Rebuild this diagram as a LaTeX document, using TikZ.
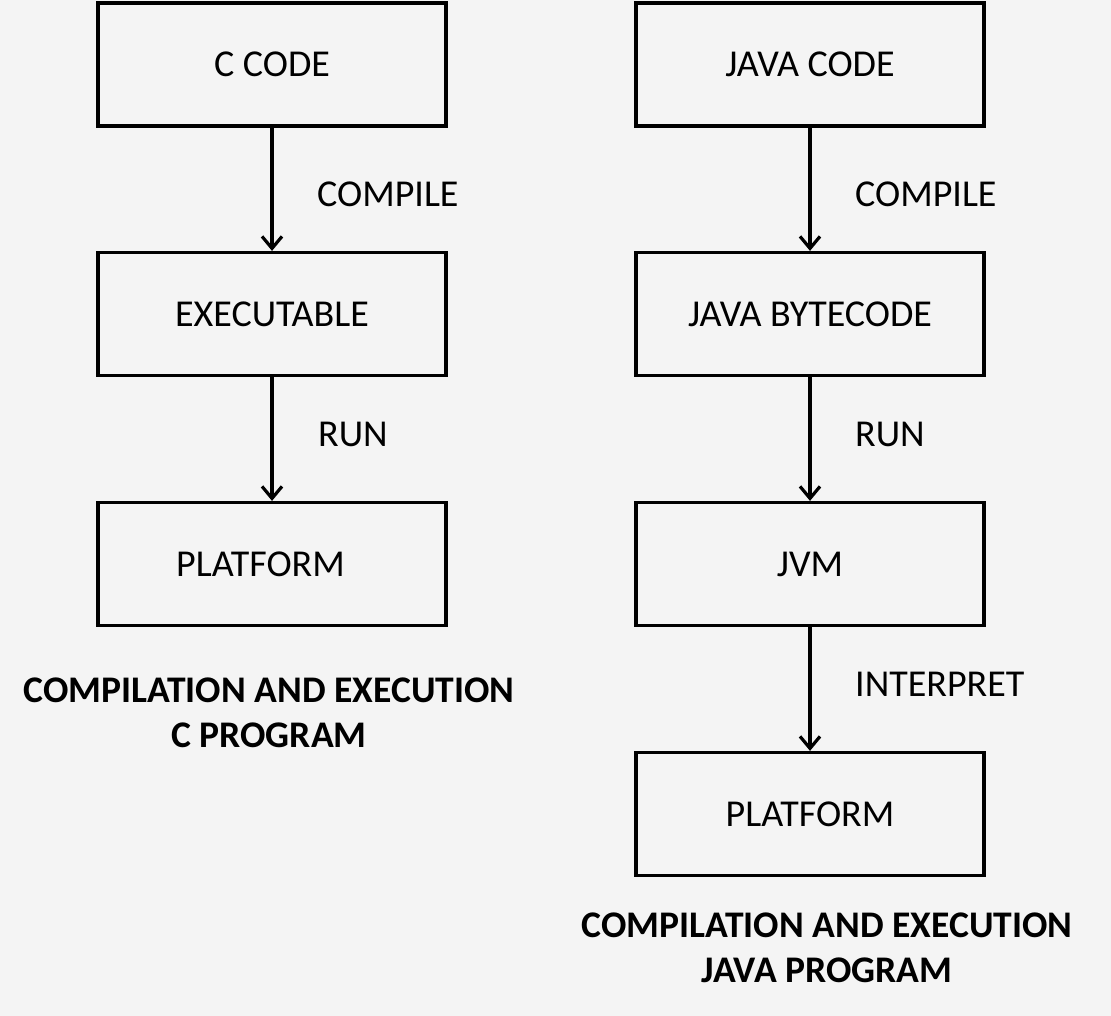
\documentclass[tikz,border=0pt]{standalone}
\usepackage{fontspec}
\setmainfont{Carlito}
\usetikzlibrary{arrows.meta}
\begin{document}
\begin{tikzpicture}[x=1pt,y=-1pt,
  box/.style={draw=black,line width=3.2pt,minimum width=348pt,minimum height=123pt,inner sep=0pt,font=\fontsize{38}{44}\selectfont},
  lbl/.style={anchor=west,inner sep=0pt,font=\fontsize{38}{44}\selectfont},
  ttl/.style={align=center,inner sep=0pt,font=\bfseries\fontsize{37.6}{45}\selectfont},
  arr/.style={line width=3.2pt,-{Straight Barb[length=12pt,width=20pt,line width=3.2pt]}}]
\fill[gray!9] (0,0) rectangle (1111,1016);
\useasboundingbox (0,0) rectangle (1111,1016);
% left column
\node[box] (c1) at (272,64.5) {C CODE};
\node[box] (c2) at (272,314) {EXECUTABLE};
\node[box] (c3) at (272,564) {\hspace*{-23pt}PLATFORM};
\draw[arr] (c1.south) -- (c2.north);
\draw[arr] (c2.south) -- (c3.north);
\node[lbl] (lc1) at (317,194) {COMPILE};
\node[lbl] (lc2) at (318,434) {RUN};
\node[ttl] (tc) at (269,713) {COMPILATION AND EXECUTION\\C PROGRAM};
% right column
\node[box] (j1) at (810,64.5) {JAVA CODE};
\node[box] (j2) at (810,314) {JAVA BYTECODE};
\node[box] (j3) at (810,564) {JVM};
\node[box] (j4) at (810,814) {PLATFORM};
\draw[arr] (j1.south) -- (j2.north);
\draw[arr] (j2.south) -- (j3.north);
\draw[arr] (j3.south) -- (j4.north);
\node[lbl] (lj1) at (855,194) {COMPILE};
\node[lbl] (lj2) at (855,434) {RUN};
\node[lbl] (lj3) at (855,684) {INTERPRET};
\node[ttl] (tj) at (827,948) {COMPILATION AND EXECUTION\\JAVA PROGRAM};
\end{tikzpicture}
\end{document}
